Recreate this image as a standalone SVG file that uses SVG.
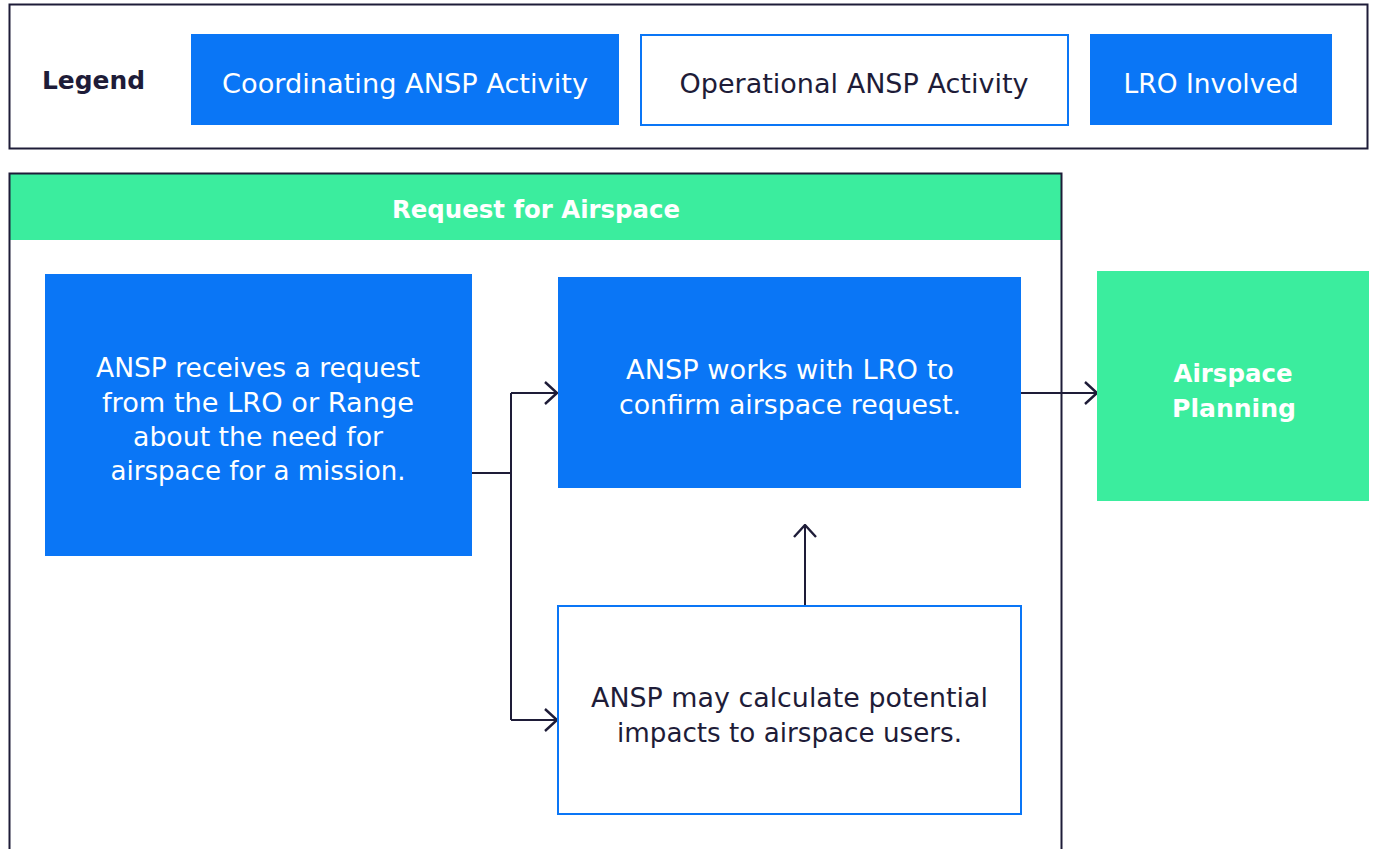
<svg xmlns="http://www.w3.org/2000/svg" width="1377" height="849" viewBox="0 0 1377 849">
<defs>
<style>
text{font-family:"DejaVu Sans","Noto Sans","Liberation Sans",sans-serif;font-size:26px;text-anchor:middle}
.w{fill:#ffffff}
.d{fill:#1e1c38}
.b{font-weight:bold;font-size:24px}
.blue{fill:#0a76f6}
.green{fill:#3bed9e}
.outl{fill:#ffffff;stroke:#0a76f6;stroke-width:2}
.frame{fill:none;stroke:#1e1c38;stroke-width:2}
.conn{fill:none;stroke:#1e1c38;stroke-width:2}
</style>
<marker id="arr" viewBox="0 0 14 24" refX="13" refY="12" markerWidth="14" markerHeight="24" markerUnits="userSpaceOnUse" orient="auto">
<path d="M1,1 L13,12 L1,23" fill="none" stroke="#1e1c38" stroke-width="2.4"/>
</marker>
</defs>
<rect width="1377" height="849" fill="#ffffff"/>
<g id="legend">
<rect class="frame" x="9.5" y="4.5" width="1358" height="144"/>
<text class="d b" x="42" y="89" style="text-anchor:start" textLength="103" lengthAdjust="spacingAndGlyphs">Legend</text>
<g id="legend-coordinating">
<rect class="blue" x="191" y="34" width="428" height="91"/>
<text class="w" x="405" y="93" textLength="366" lengthAdjust="spacingAndGlyphs">Coordinating ANSP Activity</text>
</g>
<g id="legend-operational">
<rect class="outl" x="641" y="35" width="427" height="90"/>
<text class="d" x="854" y="93" textLength="349" lengthAdjust="spacingAndGlyphs">Operational ANSP Activity</text>
</g>
<g id="legend-lro">
<rect class="blue" x="1090" y="34" width="242" height="91"/>
<text class="w" x="1211" y="93" textLength="175" lengthAdjust="spacingAndGlyphs">LRO Involved</text>
</g>
</g>
<g id="request-group">
<rect class="green" x="9" y="173" width="1053" height="67"/>
<path class="frame" d="M9.5,849 V173.5 H1061.5 V849"/>
<text class="w b" x="536" y="218" textLength="288" lengthAdjust="spacingAndGlyphs">Request for Airspace</text>
</g>
<g id="connectors">
<path class="conn" d="M472,473 H511"/>
<path class="conn" d="M511,393 V720"/>
<path class="conn" d="M511,393 H557" marker-end="url(#arr)"/>
<path class="conn" d="M511,720 H557" marker-end="url(#arr)"/>
<path class="conn" d="M805,605 V525" marker-end="url(#arr)"/>
<path class="conn" d="M1021,393 H1097" marker-end="url(#arr)"/>
</g>
<g id="node-receive">
<rect class="blue" x="45" y="274" width="427" height="282"/>
<text class="w" x="258" y="377" textLength="324" lengthAdjust="spacingAndGlyphs">ANSP receives a request</text>
<text class="w" x="258" y="412" textLength="312" lengthAdjust="spacingAndGlyphs">from the LRO or Range</text>
<text class="w" x="258" y="446" textLength="250" lengthAdjust="spacingAndGlyphs">about the need for</text>
<text class="w" x="258" y="480" textLength="295" lengthAdjust="spacingAndGlyphs">airspace for a mission.</text>
</g>
<g id="node-confirm">
<rect class="blue" x="558" y="277" width="463" height="211"/>
<text class="w" x="790" y="379" textLength="328" lengthAdjust="spacingAndGlyphs">ANSP works with LRO to</text>
<text class="w" x="790" y="414" textLength="342" lengthAdjust="spacingAndGlyphs">confirm airspace request.</text>
</g>
<g id="node-impacts">
<rect class="outl" x="558" y="606" width="463" height="208"/>
<text class="d" x="789.5" y="707" textLength="397" lengthAdjust="spacingAndGlyphs">ANSP may calculate potential</text>
<text class="d" x="789.5" y="742" textLength="345" lengthAdjust="spacingAndGlyphs">impacts to airspace users.</text>
</g>
<g id="node-planning">
<rect class="green" x="1097" y="271" width="272" height="230"/>
<text class="w b" x="1233" y="382" textLength="119" lengthAdjust="spacingAndGlyphs">Airspace</text>
<text class="w b" x="1234" y="417" textLength="124" lengthAdjust="spacingAndGlyphs">Planning</text>
</g>
</svg>
